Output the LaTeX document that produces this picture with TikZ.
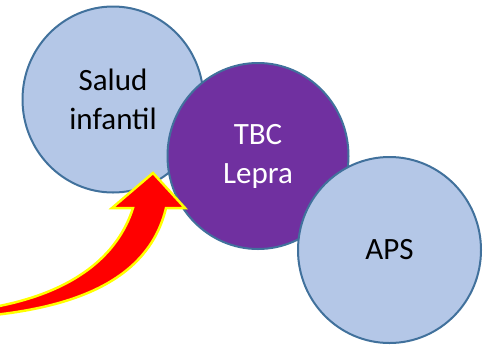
\documentclass[tikz,border=0pt]{standalone}
\usepackage{fontspec}
\setmainfont{Carlito}
\usetikzlibrary{shapes.geometric}
\definecolor{lightblue}{RGB}{180,199,231}
\definecolor{bordblue}{RGB}{65,113,156}
\definecolor{purp}{RGB}{112,48,160}
\definecolor{arrred}{RGB}{255,0,0}
\definecolor{arryel}{RGB}{255,255,0}
\tikzset{
  bubble/.style={ellipse, draw=bordblue, line width=2pt, inner sep=0pt,
    minimum width=181pt, minimum height=186pt, align=center,
    font=\fontsize{31}{39}\selectfont},
  lightbubble/.style={bubble, fill=lightblue, text=black},
  darkbubble/.style={bubble, fill=purp, text=white},
  bigarrow/.style={fill=arrred, draw=arryel, line width=2.5pt, line join=miter}
}
\begin{document}
\begin{tikzpicture}[x=1pt, y=-1pt]
\useasboundingbox (0,0) rectangle (500,346);
\node[lightbubble] (salud) at (113,99.5) {Salud\\infantil};
\node[darkbubble] (tbc) at (258,156) {TBC\\Lepra};
\node[lightbubble, minimum width=183pt] (aps) at (389.5,250) {APS};
\coordinate (tip) at (153,173);
\path[bigarrow] (133,208) -- (112,208) -- (tip) -- (185,208) -- (166,208)
  .. controls (150,275) and (85,305) .. (-6,315)
  -- (-6,307) .. controls (75,292) and (118,255) .. (133,208) -- cycle;
\end{tikzpicture}
\end{document}
